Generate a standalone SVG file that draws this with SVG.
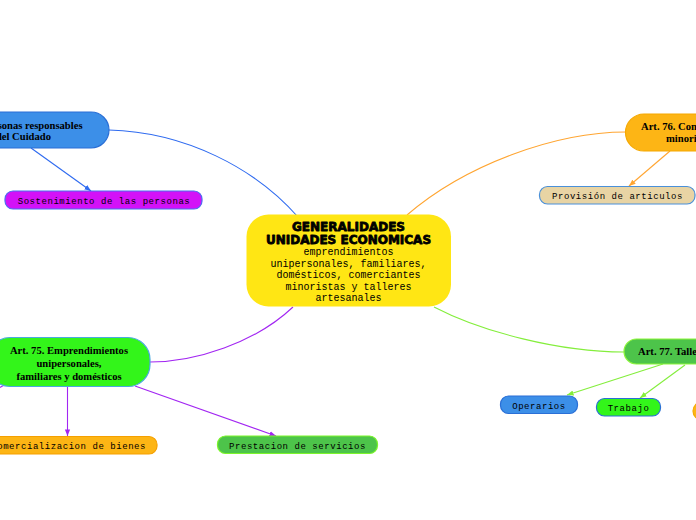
<svg xmlns="http://www.w3.org/2000/svg" width="696" height="520" viewBox="0 0 696 520">
<style>
.t{font-family:"Liberation Serif","Times New Roman",serif;font-weight:bold;font-size:10.6px;fill:#000}
.m{font-family:"Liberation Mono","Courier New",monospace;font-size:9px;letter-spacing:0.55px;fill:#000}
.b{font-family:"Liberation Mono","Courier New",monospace;font-size:10px;fill:#000}
.h{font-family:"DejaVu Sans",sans-serif;font-weight:bold;font-size:12px;fill:#000;stroke:#000;stroke-width:0.8px;stroke-linejoin:round}
.c{fill:none;stroke-width:1.1}
</style>
<defs>
<marker id="ab" viewBox="0 0 10 10" refX="10" refY="5" markerWidth="6" markerHeight="6" orient="auto"><path d="M0,1 L10,5 L0,9 z" fill="#2F6BF0"/></marker>
<marker id="ao" viewBox="0 0 10 10" refX="10" refY="5" markerWidth="6" markerHeight="6" orient="auto"><path d="M0,1 L10,5 L0,9 z" fill="#FFA531"/></marker>
<marker id="ap" viewBox="0 0 10 10" refX="10" refY="5" markerWidth="6" markerHeight="6" orient="auto"><path d="M0,1 L10,5 L0,9 z" fill="#A226F2"/></marker>
<marker id="al" viewBox="0 0 10 10" refX="10" refY="5" markerWidth="6" markerHeight="6" orient="auto"><path d="M0,1 L10,5 L0,9 z" fill="#84EE3C"/></marker>
</defs>
<rect width="696" height="520" fill="#fff"/>
<g id="connectors">
<path class="c" stroke="#2F6BF0" d="M109,130 C185,132 255,168 298,217"/>
<path class="c" stroke="#2F6BF0" d="M31,148 L91,191" marker-end="url(#ab)"/>
<path class="c" stroke="#FFA531" d="M407,215 C465,165 555,132 626,132"/>
<path class="c" stroke="#FFA531" d="M670,151 L629,186" marker-end="url(#ao)"/>
<path class="c" stroke="#A226F2" d="M293,307 C255,343 195,362 150,362"/>
<path class="c" stroke="#A226F2" d="M67.5,387 L67.5,436" marker-end="url(#ap)"/>
<path class="c" stroke="#A226F2" d="M135,386 L276,436" marker-end="url(#ap)"/>
<path class="c" stroke="#A226F2" d="M10,382 L-12,394"/>
<path class="c" stroke="#84EE3C" d="M434,307 C482,332 560,352 624,352"/>
<path class="c" stroke="#84EE3C" d="M663,364 L567,395" marker-end="url(#al)"/>
<path class="c" stroke="#84EE3C" d="M685,365 L640,398" marker-end="url(#al)"/>
</g>
<g id="n-personas">
<rect x="-50" y="112" width="159" height="36" rx="18" fill="#3C8FE8" stroke="#2A6FD6" stroke-width="1.2"/>
<text class="t" x="82.5" y="129" text-anchor="end">Personas responsables</text>
<text class="t" x="51" y="140" text-anchor="end">del Cuidado</text>
</g>
<g id="n-sostenimiento">
<rect x="5" y="191" width="197" height="18" rx="8" fill="#D312F7" stroke="#4B6EF0" stroke-width="1.2"/>
<text class="m" x="104" y="203.5" text-anchor="middle">Sostenimiento de las personas</text>
</g>
<g id="n-central">
<rect x="246.5" y="214.5" width="204.5" height="92" rx="22" fill="#FFE614"/>
<text class="h" x="348.5" y="231" text-anchor="middle">GENERALIDADES</text>
<text class="h" x="348.5" y="243.5" text-anchor="middle">UNIDADES ECONOMICAS</text>
<text class="b" x="348.5" y="255" text-anchor="middle">emprendimientos</text>
<text class="b" x="348.5" y="266.5" text-anchor="middle">unipersonales, familiares,</text>
<text class="b" x="348.5" y="278" text-anchor="middle">domésticos, comerciantes</text>
<text class="b" x="348.5" y="289.5" text-anchor="middle">minoristas y talleres</text>
<text class="b" x="348.5" y="301" text-anchor="middle">artesanales</text>
</g>
<g id="n-art76">
<rect x="625.5" y="114" width="150" height="37" rx="18.5" fill="#FDB515" stroke="#F5A800" stroke-width="1.2"/>
<text class="t" x="641" y="130">Art. 76. Comerciantes</text>
<text class="t" x="666" y="141.5">minoristas</text>
</g>
<g id="n-provision">
<rect x="539.5" y="186.5" width="155.5" height="17.5" rx="8" fill="#E8D4A4" stroke="#4A90D9" stroke-width="1.2"/>
<text class="m" x="617.5" y="198.5" text-anchor="middle">Provisión de articulos</text>
</g>
<g id="n-art75">
<rect x="-12" y="337.5" width="162" height="49" rx="22" fill="#33F51A" stroke="#4AA8E0" stroke-width="1.2"/>
<text class="t" x="69" y="354" text-anchor="middle">Art. 75. Emprendimientos</text>
<text class="t" x="69" y="367" text-anchor="middle">unipersonales,</text>
<text class="t" x="69" y="379.5" text-anchor="middle">familiares y domésticos</text>
</g>
<g id="n-comercializacion">
<rect x="-20" y="436.5" width="177" height="17.5" rx="8" fill="#FDB515" stroke="#F5A000" stroke-width="1.2"/>
<text class="m" x="146" y="449" text-anchor="end">Comercializacion de bienes</text>
</g>
<g id="n-prestacion">
<rect x="217.5" y="436" width="160" height="17.5" rx="8" fill="#4DC44A" stroke="#7CF52A" stroke-width="1.2"/>
<text class="m" x="297.5" y="448.5" text-anchor="middle">Prestacion de servicios</text>
</g>
<g id="n-art77">
<rect x="624" y="339" width="150" height="25" rx="12.5" fill="#4DC44A" stroke="#8CF53A" stroke-width="1.2"/>
<text class="t" x="638" y="355">Art. 77. Talleres artesanales</text>
</g>
<g id="n-operarios">
<rect x="500.5" y="396" width="77" height="17.5" rx="8" fill="#3C8FE8" stroke="#2A6FD6" stroke-width="1.2"/>
<text class="m" x="539" y="408.5" text-anchor="middle">Operarios</text>
</g>
<g id="n-trabajo">
<rect x="596.5" y="398.5" width="64" height="17.5" rx="8" fill="#33F51A" stroke="#2A6FD6" stroke-width="1.2"/>
<text class="m" x="628.5" y="410.5" text-anchor="middle">Trabajo</text>
</g>
<g id="n-offscreen">
<rect x="693" y="402" width="70" height="18" rx="9" fill="#FDB515" stroke="#F5A800" stroke-width="1.2"/>
</g>
</svg>
